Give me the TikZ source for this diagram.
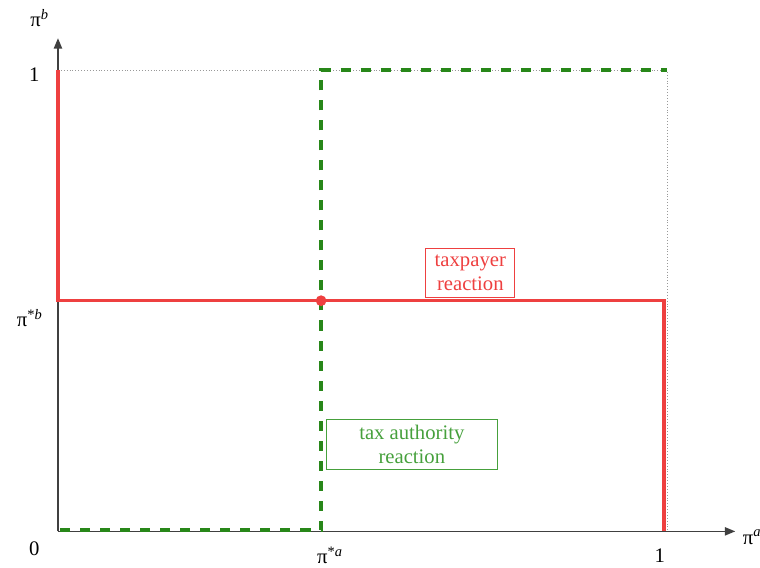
\documentclass[tikz,border=0pt]{standalone}
\usepackage{fontspec}
\setmainfont{Liberation Serif}
\usetikzlibrary{arrows.meta}
\definecolor{tpred}{RGB}{238,64,64}
\definecolor{tagreen}{RGB}{40,135,25}
\definecolor{boxgreen}{RGB}{70,160,60}
\begin{document}
\begin{tikzpicture}
  [x=10.35cm,y=7.84cm,font=\fontsize{10}{11.5}\selectfont,
   every node/.style={inner sep=1pt}]
  \tikzstyle{axis} = [draw=black!75,line width=0.6pt,-{Triangle[length=5pt,width=4pt]}]
  \tikzstyle{guide} = [draw=black!40,densely dotted,line width=0.4pt]
  \tikzstyle{taxpayer} = [draw=tpred,line width=1.6pt]
  \tikzstyle{authority} = [draw=tagreen,line width=1.6pt,dash pattern=on 0.17cm off 0.17cm]
  \tikzstyle{label} = [draw,line width=0.5pt,align=center,inner sep=2pt]
  \useasboundingbox (-0.0952,-0.0781) rectangle (1.1527,1.1518);

  \coordinate (o) at (0,0);
  \coordinate (xend) at (1.112,0);
  \coordinate (yend) at (0,1.069);
  \coordinate (tl) at (0,1);
  \coordinate (tr) at (1,1);
  \coordinate (br) at (1,0);
  \coordinate (rl) at (0,0.5);
  \coordinate (rr) at (0.995,0.5);
  \coordinate (rb) at (0.995,0);
  \coordinate (gl) at (0.004,0.003);
  \coordinate (gb) at (0.432,0.003);
  \coordinate (gt) at (0.432,1);
  \coordinate (eq) at (0.432,0.5);

  % axes and labels
  \draw[guide] (tl) -- (tr) -- (br);
  \draw[axis] (o) -- (xend);
  \draw[axis] (o) -- (yend);
  \node (pb) at (-0.030,1.113) {π\textsuperscript{\textit{b}}};
  \node (one-y) at (-0.039,0.991) {1};
  \node (psb) at (-0.046,0.462) {π\textsuperscript{*\textit{b}}};
  \node (zero) at (-0.039,-0.037) {0};
  \node (psa) at (0.447,-0.052) {π\textsuperscript{*\textit{a}}};
  \node (one-x) at (0.988,-0.052) {1};
  \node (pa) at (1.14,-0.013) {π\textsuperscript{\textit{a}}};

  % reaction curves
  \draw[taxpayer] (tl) -- (rl) -- (rr) -- (rb);
  \draw[authority] (gl) -- (gb) -- (gt) -- (tr);
  \fill[tpred] (eq) circle (2.6pt);

  \node[label,draw=tpred,text=tpred,minimum width=1.51cm,minimum height=0.83cm]
    (tp) at (0.677,0.560) {taxpayer\\reaction};
  \node[label,draw=boxgreen,text=boxgreen,minimum width=2.9cm,minimum height=0.85cm]
    (ta) at (0.581,0.189) {tax authority\\reaction};
\end{tikzpicture}
\end{document}
